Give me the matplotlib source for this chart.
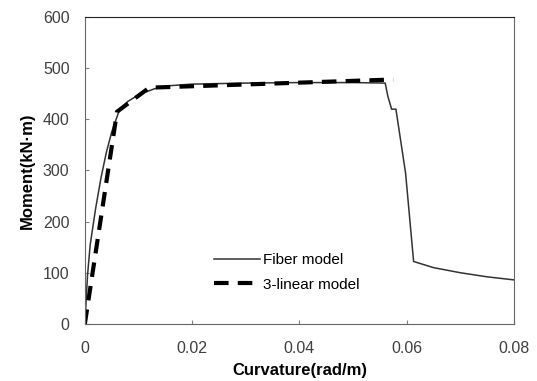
import matplotlib.pyplot as plt

plt.rcParams['font.family'] = ['Liberation Sans', 'DejaVu Sans']

# Fiber model moment-curvature
fiber_x = [0, 0.0005, 0.001, 0.002, 0.003, 0.004, 0.005, 0.0065, 0.008, 0.010, 0.013,
           0.016, 0.020, 0.030, 0.040, 0.050, 0.056, 0.0565, 0.0572, 0.058, 0.0598,
           0.0613, 0.065, 0.070, 0.075, 0.080]
fiber_y = [0, 95, 155, 225, 285, 335, 375, 420, 435, 448, 460,
           466, 469, 471, 472, 472, 471, 445, 420, 420, 295,
           122, 110, 100, 92, 86]

# 3-linear model
tri_x = [0, 0.006, 0.012, 0.0575]
tri_y = [0, 415, 462, 478]

fig = plt.figure(figsize=(5.37, 3.81), dpi=100)
ax = fig.add_axes([0.158, 0.15, 0.799, 0.805])
ax.plot(fiber_x, fiber_y, color='#333333', lw=1.1, label='Fiber model')
ax.plot(tri_x, tri_y, color='black', lw=3, ls=(0, (3.5, 2.2)), label='3-linear model')

ax.set_xlim(0, 0.08)
ax.set_ylim(0, 600)
ax.set_xticks([0, 0.02, 0.04, 0.06, 0.08])
ax.set_xticklabels(['0', '0.02', '0.04', '0.06', '0.08'])
ax.set_yticks(range(0, 601, 100))
ax.tick_params(direction='in', labelsize=11.5, labelcolor='#404040', length=3, color='#808080')
ax.tick_params(axis='x', pad=12.5)
ax.tick_params(axis='y', pad=11)
for s in ax.spines.values():
    s.set_color('#666666')
ax.spines['top'].set_color('#222222')
ax.set_xlabel('Curvature(rad/m)', fontsize=12, fontweight='bold', labelpad=5)
ax.set_ylabel('Moment(kN·m)', fontsize=12, fontweight='bold', labelpad=6)

ax.legend(loc='lower left', bbox_to_anchor=(0.27, 0.06), frameon=False, fontsize=11,
          handlelength=3.0, handletextpad=0.2, labelspacing=0.7)

fig.savefig('out.png', dpi=100)
